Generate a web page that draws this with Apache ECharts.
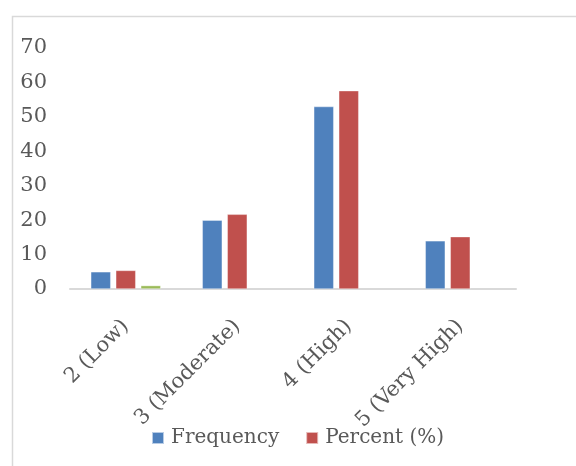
<!DOCTYPE html>
<html>
<head>
<meta charset="utf-8">
<script src="https://cdn.jsdelivr.net/npm/echarts@6/dist/echarts.min.js"></script>
<style>
  html, body { margin: 0; padding: 0; background: #fff; }
  #chart { width: 576px; height: 466px; }
</style>
</head>
<body>
<div id="chart"></div>
<script>
// Risk level categories and the values per series
const categories = ['2 (Low)', '3 (Moderate)', '4 (High)', '5 (Very High)'];
const frequency = [5, 20, 53, 14];
const percent = [5.4, 21.7, 57.6, 15.2];
const thirdSeries = [1, null, null, null];
const yTicks = { min: 0, max: 70, interval: 10 };

const textColor = '#595959';
const fontFamily = '"DejaVu Serif", serif';

const chart = echarts.init(document.getElementById('chart'), null, { renderer: 'canvas' });

const barStyle = (color) => ({
  color: color,
  borderColor: 'rgba(255,255,255,0.6)',
  borderWidth: 0.6
});

chart.setOption({
  backgroundColor: '#fff',
  animation: false,
  graphic: [{
    type: 'rect',
    left: 10, top: 14,
    shape: { width: 600, height: 500 },
    style: { fill: 'none', stroke: '#d9d9d9', lineWidth: 1.5 },
    silent: true
  }],
  grid: { left: 70, right: 60, top: 48, bottom: 177, containLabel: false },
  legend: {
    data: ['Frequency', 'Percent (%)'],
    left: 146, top: 423,
    itemWidth: 12, itemHeight: 12, itemGap: 26,
    icon: 'rect',
    textStyle: { color: textColor, fontFamily: fontFamily, fontSize: 20, padding: [0, 0, 0, 2] }
  },
  xAxis: {
    type: 'category',
    data: categories,
    axisLine: { show: true, lineStyle: { color: '#d9d9d9', width: 2 } },
    axisTick: { show: false },
    axisLabel: {
      rotate: 45, margin: 34, interval: 0,
      color: textColor, fontFamily: fontFamily, fontSize: 21
    }
  },
  yAxis: {
    type: 'value',
    min: yTicks.min, max: yTicks.max, interval: yTicks.interval,
    axisLine: { show: false },
    axisTick: { show: false },
    splitLine: { show: false },
    axisLabel: { margin: 23, color: textColor, fontFamily: fontFamily, fontSize: 21 }
  },
  series: [
    { name: 'Frequency', type: 'bar', data: frequency, barWidth: 20, barGap: '25%', itemStyle: barStyle('#4F81BD') },
    { name: 'Percent (%)', type: 'bar', data: percent, barWidth: 20, barGap: '25%', itemStyle: barStyle('#C0504D') },
    { name: 'Series 3', type: 'bar', data: thirdSeries, barWidth: 20, barGap: '25%', itemStyle: barStyle('#9BBB59') }
  ]
});
</script>
</body>
</html>
